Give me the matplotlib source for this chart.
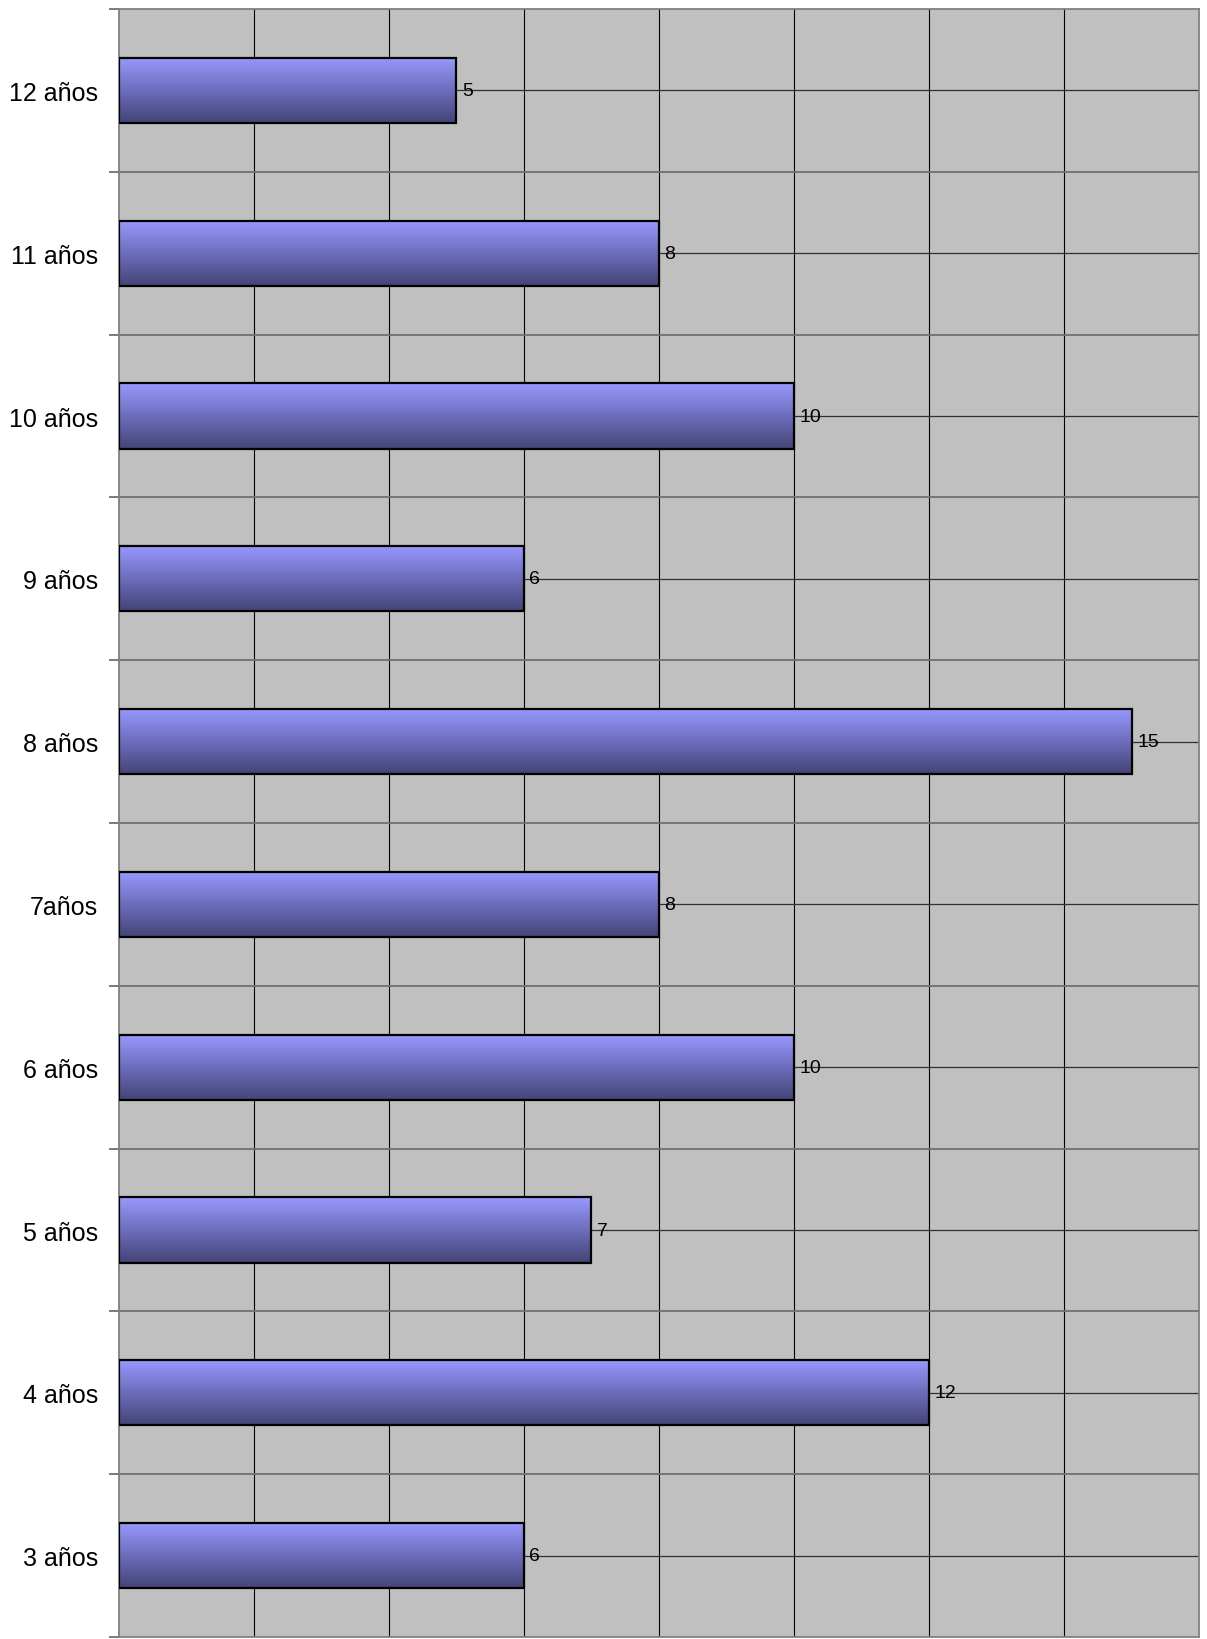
import numpy as np
import matplotlib.pyplot as plt
from matplotlib.colors import LinearSegmentedColormap

plt.rcParams['font.family'] = ['Liberation Sans', 'DejaVu Sans']

# data (bottom to top)
categories = ['3 años', '4 años', '5 años', '6 años', '7años',
              '8 años', '9 años', '10 años', '11 años', '12 años']
values = [6, 12, 7, 10, 8, 15, 6, 10, 8, 5]

fig = plt.figure(figsize=(12.07, 16.40), dpi=100)
ax = fig.add_axes([0.0983, 0.0012, 0.8951, 0.9927])
ax.set_facecolor('#C0C0C0')

y = np.arange(len(categories))
ax.set_xlim(0, 16)
ax.set_ylim(-0.5, len(categories) - 0.5)

# grid: vertical every 2, horizontal at category centres and boundaries
for gx in np.arange(2, 16, 2):
    ax.axvline(gx, color='black', lw=0.8, zorder=1)
for gy in y:
    ax.axhline(gy, color='#303030', lw=0.9, zorder=1)
for gy in np.arange(-0.5, len(categories), 1.0)[1:-1]:
    ax.axhline(gy, color='#707070', lw=1.3, zorder=1)

# bars with vertical gradient
cmap = LinearSegmentedColormap.from_list('bar', ['#444476', '#6D6DBE', '#9999FF'])
grad = np.linspace(0, 1, 256).reshape(-1, 1)
bars = ax.barh(y, values, height=0.4, facecolor='none', edgecolor='black',
               linewidth=1.6, zorder=3)
for b in bars:
    x0, y0, w, h = b.get_x(), b.get_y(), b.get_width(), b.get_height()
    # light at top, dark at bottom
    ax.imshow(grad, cmap=cmap, aspect='auto', origin='upper',
              extent=[x0, x0 + w, y0 + h, y0], zorder=2)

for b, v in zip(bars, values):
    ax.annotate(str(v), (b.get_width(), b.get_y() + b.get_height() / 2),
                xytext=(4, 0), textcoords='offset points',
                ha='left', va='center', fontsize=14, zorder=4)

ax.set_xlim(0, 16)
ax.set_ylim(-0.5, len(categories) - 0.5)

ax.set_yticks(y)
ax.set_yticklabels(categories, fontsize=18)
ax.set_yticks(np.arange(-0.5, len(categories), 1.0), minor=True)
ax.tick_params(axis='y', which='major', length=0, pad=15)
ax.tick_params(axis='y', which='minor', length=7, color='#707070', width=1.3)
ax.set_xticks([])

for s in ax.spines.values():
    s.set_color('#808080')
    s.set_linewidth(1.3)

fig.savefig('out.png', dpi=100)
